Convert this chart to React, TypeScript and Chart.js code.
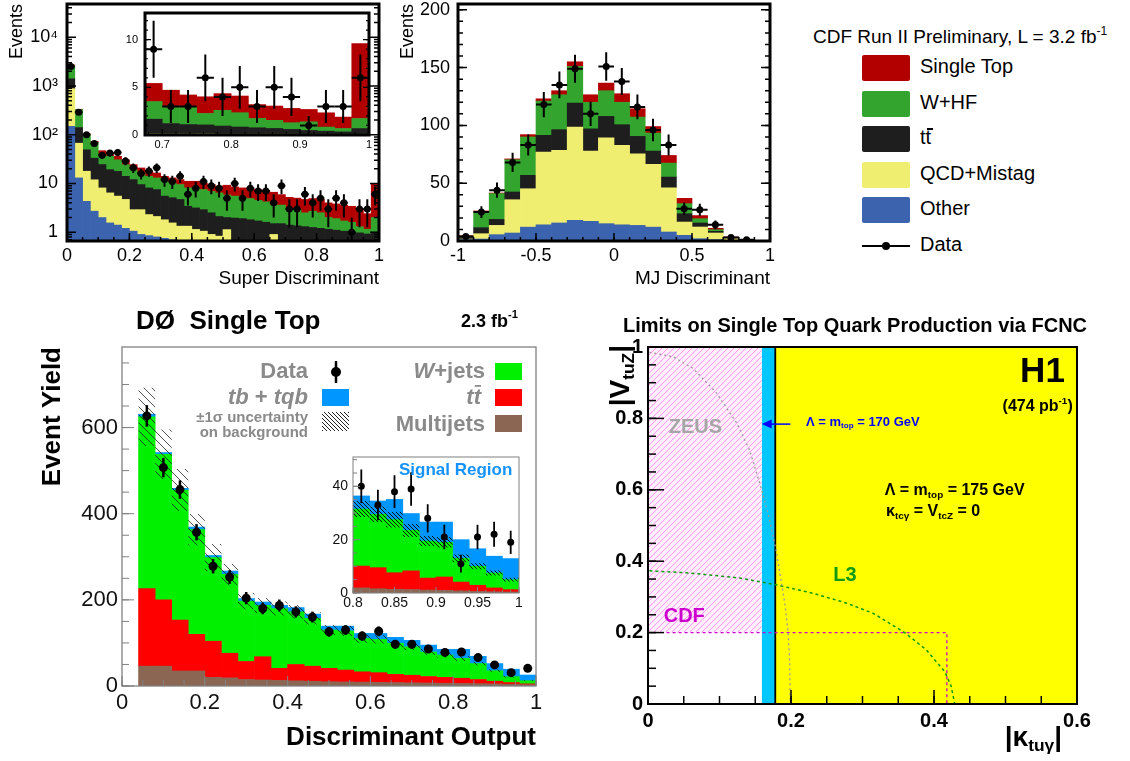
import React, { useEffect, useRef } from 'react';
import { Chart, registerables } from 'chart.js';

Chart.register(...registerables);

const FF = "'Liberation Sans', Arial, Helvetica, sans-serif";
Chart.defaults.font.family = FF;
Chart.defaults.color = '#000';

// ================= CDF : Super Discriminant (40 bins, width 0.025) =================
const sdBinWidth = 0.025;
const sdOther = [148, 13, 4.3, 2.7, 2.0, 1.55, 1.4, 1.2, 1.05, 0.9, 0.85, 0.8, 0.75, 0.7, 0.65, 0.6, 0.55, 0.5, 0.45, 0.4, 0.35, 0.3, 0.3, 0.3, 0.3, 0.3, 0.3, 0.25, 0.25, 0.25, 0.25, 0.25, 0.25, 0.2, 0.2, 0.2, 0.2, 0.2, 0.2, 0.2];
const sdQcd = [732, 54, 13.5, 9.2, 6.1, 4.85, 4.1, 3.5, 1.85, 2.0, 1.45, 1.3, 1.05, 0.85, 0.68, 0.73, 0.59, 0.55, 0.45, 0.43, 0.78, 0.3, 0.28, 0.26, 0.24, 0.22, 0.6, 0.25, 0.23, 0.21, 0.19, 0.17, 0.15, 0.18, 0.16, 0.14, 0.12, 0.1, 0.1, 0.1];
const sdTtbar = [520, 73, 31.2, 21.1, 16.4, 12.8, 12.2, 9.3, 9.1, 6.6, 5.8, 5.4, 3.7, 3.55, 3.37, 2.07, 2.01, 1.85, 1.6, 1.27, 0.87, 1.35, 1.32, 1.24, 1.16, 1.08, 0.6, 1.0, 0.92, 0.89, 0.86, 0.83, 0.8, 0.77, 0.74, 0.71, 0.68, 0.67, 0.62, 0.7];
const sdWhf = [1250, 185, 51, 37, 14.5, 16.8, 12.9, 10.3, 7.2, 6.9, 5.9, 5.5, 5.5, 5.1, 4.8, 4.7, 4.95, 4.6, 4.4, 4.3, 3.8, 3.55, 3.3, 3.1, 2.8, 2.6, 2.1, 2.1, 1.7, 1.65, 1.2, 1.45, 1.3, 0.85, 0.8, 0.65, 0.6, 0.33, 0.23, 1.0];
const sdStop = [50, 5, 4, 3, 8, 6, 5.4, 6.3, 5.1, 4.4, 3.7, 3.4, 3.0, 2.8, 2.5, 3.0, 3.0, 2.7, 2.6, 2.4, 3.4, 3.0, 2.9, 2.9, 3.0, 3.0, 3.0, 2.3, 2.1, 2.0, 2.2, 2.2, 2.2, 2.0, 1.9, 1.9, 1.8, 1.8, 1.25, 8.0];
const sdData = [2500, 290, 100, 66, 38, 42, 43, 29, 21, 16, 18, 21, 12, 11, 14, 6, 8, 11, 9, 8, 5, 10, 5, 8, 7, 7, 4, 9, 3, 3, 6, 4, 5, 3, 5, 4, 1, 3, 3, 6];
const sdLogTicks = [1, 10, 100, 1000, 10000];
const sdLogLabels = ['1', '10', '10²', '10³', '10⁴'];

// inset: 13 bins from 0.675 to 1.0
const inStart = 0.675;
const inOther = [0.04, 0.04, 0.04, 0.04, 0.04, 0.04, 0.04, 0.04, 0.04, 0.04, 0.04, 0.04, 0.04];
const inQcd = [0.07, 0.06, 0.06, 0.07, 0.05, 0.05, 0.05, 0.05, 0.05, 0.04, 0.04, 0.04, 0.04];
const inTtbar = [1.55, 1.1, 1.0, 0.95, 0.85, 0.75, 0.67, 0.6, 0.5, 0.4, 0.32, 0.25, 0.6];
const inWhf = [1.85, 1.75, 1.8, 1.2, 1.65, 1.5, 0.98, 0.85, 0.7, 0.9, 0.43, 0.35, 1.05];
const inStop = [1.9, 1.75, 1.3, 1.75, 1.75, 1.75, 1.45, 1.5, 1.5, 1.3, 1.5, 1.2, 7.85];
const inData = [9, 3, 3, 6, 4, 5, 3, 5, 4, 1, 3, 3, 6];

// ================= CDF : MJ Discriminant (20 bins, width 0.1 from -1) =================
const mjStart = -1;
const mjBinWidth = 0.1;
const mjOther = [1.2, 1.7, 5.5, 6.9, 12, 14, 15.6, 17.9, 17, 15, 14, 13.5, 12, 7.8, 4.9, 2, 1.2, 0.6, 0.3, 0.2];
const mjQcd = [0.5, 4.6, 8, 28.8, 33.2, 63, 62.8, 80.7, 60.8, 74.3, 68.7, 62, 54.3, 38.2, 11.5, 10.1, 5.7, 2, 0.6, 0.2];
const mjTtbar = [1.2, 5.2, 5.2, 6.7, 11.6, 14.4, 17.9, 20.7, 19.2, 18.5, 17.9, 15, 11.5, 9.3, 7.2, 3.5, 1.5, 0.3, 0.2, 0.1];
const mjWhf = [0.6, 13.5, 22.3, 27.9, 33.2, 29.6, 30.2, 31.7, 23, 22.2, 19.4, 16.7, 15.6, 12.1, 8.7, 3.7, 1.4, 0.3, 0.2, 0.05];
const mjStop = [1.1, 1, 0.5, 0.7, 2, 2, 3.5, 4, 6.5, 6.6, 7.4, 7.2, 5.6, 6.6, 4.6, 2.7, 1.2, 0.3, 0.1, 0.05];
const mjData = [4, 25, 44, 68, 83, 118, 135, 149, 110, 151, 138, 116, 96, 83, 28, 27, 14, 3, 1, null];

const cdfNames = { stop: 'Single Top', whf: 'W+HF', ttbar: 'tt̄', qcd: 'QCD+Mistag', other: 'Other' };
const cdfColors = { stop: '#b20000', whf: '#33a52e', ttbar: '#1e1e1e', qcd: '#f0ee70', other: '#3c63ae' };

// ================= DØ : Discriminant Output (24 bins of 0.04 from 0.04) =================
const d0Start = 0.04;
const d0BinWidth = 0.04;
const d0Multijet = [46, 46, 35, 35, 20, 19, 15, 14, 13, 12, 11, 10, 9.5, 9, 8.5, 8, 7.5, 7, 6.5, 6, 5.5, 5, 4, 3];
const d0Ttbar = [180, 154, 118, 85, 84, 57, 42, 54, 28, 38, 35, 31, 27.5, 24, 22.5, 19, 17.5, 15, 13.5, 12, 9.5, 6, 4, 2];
const d0Wjets = [399, 338, 302, 243, 194, 183, 140, 119, 139, 122, 111, 89, 91, 77, 77, 72, 66, 57, 52, 46, 37, 24.5, 13.6, 7.3];
const d0Signal = [6, 4, 4, 6, 5, 8, 6, 8, 7, 10, 10, 9, 11, 12, 14, 14, 15, 16, 13, 21, 17, 16.5, 17.4, 13.2];
const d0BkgErr = [68, 58, 49, 37, 32, 25, 19, 18, 17, 16, 15, 12, 12, 10, 10, 9, 8, 7, 6.5, 6, 5, 3.5, 2.5, 1.5];
const d0Data = [627, 507, 456, 357, 278, 253, 204, 180, 187, 172, 160, 126, 130, 116, 127, 97, 97, 86, 78, 79, 66, 49, 31, 41];

// DØ inset "Signal Region" (10 bins of 0.02 from 0.8)
const diStart = 0.8;
const diBinWidth = 0.02;
const diMultijet = [1.9, 1.6, 1.4, 1.3, 1.1, 1.0, 0.8, 0.6, 0.5, 0.4];
const diTtbar = [8.2, 7.9, 6.2, 7.0, 4.5, 5.0, 3.3, 2.3, 1.4, 0.85];
const diWjets = [21.4, 20, 19.9, 15.2, 13.9, 13, 8.9, 7.1, 5.6, 3.75];
const diSignal = [4.9, 5, 7.6, 6.3, 7.1, 7.6, 7, 6.6, 6.3, 7.9];
const diBkgErr = [3, 3, 3, 2.5, 2, 2, 1.5, 1.2, 1, 0.8];
const diData = [40, 33, 38, 39, 28, 21, 11, 21, 22, 19];

const d0Colors = { signal: '#0096ff', wjets: '#00f000', ttbar: '#ff0000', multijet: '#8b6652' };

// ================= H1 : FCNC limits =================
const h1KappaMax = 0.6;
const h1KappaLimit = 0.178;
const lam170KappaLimit = 0.159;
const cdfVLimit = 0.2;
const zeusK = [0.002, 0.035, 0.063, 0.096, 0.124, 0.142, 0.159, 0.17, 0.179, 0.186, 0.192, 0.196, 0.198, 0.199];
const zeusV = [0.985, 0.973, 0.94, 0.871, 0.787, 0.712, 0.6, 0.516, 0.432, 0.348, 0.273, 0.199, 0.124, 0];
const l3K = [0.002, 0.058, 0.128, 0.179, 0.231, 0.277, 0.315, 0.359, 0.389, 0.415, 0.424, 0.429];
const l3V = [0.373, 0.367, 0.353, 0.334, 0.31, 0.283, 0.254, 0.2, 0.152, 0.091, 0.05, 0];
const cdfK = [0.026, 0.418, 0.418];
const cdfV = [0.2, 0.2, 0];
const arrowK = [0.199, 0.159];
const arrowV = 0.784;

// ---------------------------------------------------------------------------
const centersOf = (start: number, w: number, n: number) => Array.from({ length: n }, (_, i) => start + (i + 0.5) * w);
const sdCenters = centersOf(0, sdBinWidth, sdData.length);
const inCenters = centersOf(inStart, sdBinWidth, inData.length);
const mjCenters = centersOf(mjStart, mjBinWidth, mjData.length);
const d0Centers = centersOf(d0Start, d0BinWidth, d0Data.length);
const diCenters = centersOf(diStart, diBinWidth, diData.length);

type Seg = { t: string; s?: 'sub' | 'sup'; it?: boolean; ov?: boolean; w?: string };
type Note = { x: number; y: number; segs: Seg[]; size: number; color?: string; weight?: string; align?: 'left' | 'right' | 'center'; rot?: number; data?: boolean };

const fnt = (size: number, weight = 'normal', it = false) => `${it ? 'italic ' : ''}${weight} ${size}px ${FF}`;

function drawRich(ctx: any, n: Note, x: number, y: number) {
  const base = n.size;
  const weight = n.weight ?? 'bold';
  ctx.save();
  ctx.translate(x, y);
  if (n.rot) ctx.rotate(n.rot);
  ctx.fillStyle = n.color ?? '#000';
  ctx.strokeStyle = n.color ?? '#000';
  ctx.textBaseline = 'middle';
  ctx.textAlign = 'left';
  const sizeOf = (s: Seg) => (s.s ? base * 0.62 : base);
  const widths = n.segs.map((s) => {
    ctx.font = fnt(sizeOf(s), s.w ?? weight, s.it);
    return ctx.measureText(s.t).width;
  });
  const total = widths.reduce((a: number, b: number) => a + b, 0);
  let cx = n.align === 'right' ? -total : n.align === 'center' ? -total / 2 : 0;
  n.segs.forEach((s, i) => {
    const sz = sizeOf(s);
    ctx.font = fnt(sz, s.w ?? weight, s.it);
    const dy = s.s === 'sub' ? base * 0.3 : s.s === 'sup' ? -base * 0.38 : 0;
    ctx.fillText(s.t, cx, dy);
    if (s.ov) {
      ctx.lineWidth = Math.max(1.3, sz * 0.08);
      const yb = dy - sz * 0.55;
      ctx.beginPath();
      ctx.moveTo(cx + widths[i] * 0.15, yb);
      ctx.lineTo(cx + widths[i] * 1.0, yb);
      ctx.stroke();
    }
    cx += widths[i];
  });
  ctx.restore();
}

function notesPlugin(id: string, notes: Note[]) {
  return {
    id,
    afterDraw(chart: any) {
      notes.forEach((n) => {
        const x = n.data ? chart.scales.x.getPixelForValue(n.x) : n.x;
        const y = n.data ? chart.scales.y.getPixelForValue(n.y) : n.y;
        drawRich(chart.ctx, n, x, y);
      });
    },
  };
}

type TickCfg = { major: number; minorLen: number; minor: number; sides: string[] };
function frameTicksPlugin(id: string, cfg: { color: string; frameW: number; tickW: number; x: TickCfg; y: TickCfg }) {
  return {
    id,
    afterDatasetsDraw(chart: any) {
      const { ctx, chartArea: a } = chart;
      ctx.save();
      ctx.strokeStyle = cfg.color;
      const draw = (scale: any, c: TickCfg) => {
        const majors = scale.ticks.map((t: any) => t.value);
        const minors: number[] = [];
        if (scale.type === 'logarithmic') {
          for (let d = Math.floor(Math.log10(scale.min)); d <= Math.ceil(Math.log10(scale.max)); d++) {
            for (let k = 2; k <= 9; k++) {
              const v = k * Math.pow(10, d);
              if (v > scale.min && v < scale.max) minors.push(v);
            }
          }
        } else if (c.minor > 1 && majors.length > 1) {
          const step = (majors[1] - majors[0]) / c.minor;
          let v = majors[0];
          while (v - step >= scale.min - 1e-9) v -= step;
          for (; v <= scale.max + 1e-9; v += step) minors.push(v);
        }
        const mark = (v: number, len: number) => {
          const p = scale.getPixelForValue(v);
          ctx.beginPath();
          c.sides.forEach((side) => {
            if (side === 'bottom') { ctx.moveTo(p, a.bottom); ctx.lineTo(p, a.bottom - len); }
            if (side === 'top') { ctx.moveTo(p, a.top); ctx.lineTo(p, a.top + len); }
            if (side === 'left') { ctx.moveTo(a.left, p); ctx.lineTo(a.left + len, p); }
            if (side === 'right') { ctx.moveTo(a.right, p); ctx.lineTo(a.right - len, p); }
          });
          ctx.stroke();
        };
        ctx.lineWidth = cfg.tickW;
        minors.forEach((v) => mark(v, c.minorLen));
        majors.forEach((v: number) => mark(v, c.major));
      };
      draw(chart.scales.x, cfg.x);
      draw(chart.scales.y, cfg.y);
      ctx.lineWidth = cfg.frameW;
      ctx.strokeRect(a.left, a.top, a.right - a.left, a.bottom - a.top);
      ctx.restore();
    },
  };
}

function errorBarPlugin(id: string, xs: number[], ys: (number | null)[], halfW: number, width: number) {
  return {
    id,
    afterDatasetsDraw(chart: any) {
      const { ctx, chartArea: a } = chart;
      const sx = chart.scales.x;
      const sy = chart.scales.y;
      ctx.save();
      ctx.beginPath();
      ctx.rect(a.left, a.top, a.right - a.left, a.bottom - a.top);
      ctx.clip();
      ctx.strokeStyle = '#000';
      ctx.lineWidth = width;
      ys.forEach((v, i) => {
        if (v == null) return;
        const e = Math.sqrt(v);
        const px = sx.getPixelForValue(xs[i]);
        const py = sy.getPixelForValue(v);
        const lo = sy.getPixelForValue(Math.max(v - e, sy.min));
        const hi = sy.getPixelForValue(v + e);
        ctx.beginPath();
        ctx.moveTo(px, lo);
        ctx.lineTo(px, hi);
        if (halfW) {
          ctx.moveTo(sx.getPixelForValue(xs[i] - halfW), py);
          ctx.lineTo(sx.getPixelForValue(xs[i] + halfW), py);
        }
        ctx.stroke();
      });
      ctx.restore();
    },
  };
}

// "\\\\" hatch (down-right) inside a rectangle
function hatchLines(ctx: any, x0: number, x1: number, yt: number, yb: number, spacing: number) {
  ctx.save();
  ctx.beginPath();
  ctx.rect(x0, yt, x1 - x0, yb - yt);
  ctx.clip();
  ctx.beginPath();
  const c0 = Math.floor((x0 - yb) / spacing) * spacing;
  for (let c = c0; c <= x1 - yt; c += spacing) {
    ctx.moveTo(c + yt, yt);
    ctx.lineTo(c + yb, yb);
  }
  ctx.stroke();
  ctx.restore();
}
// "////" hatch (up-right) inside a rectangle
function hatchLinesUp(ctx: any, x0: number, x1: number, yt: number, yb: number, spacing: number) {
  ctx.save();
  ctx.beginPath();
  ctx.rect(x0, yt, x1 - x0, yb - yt);
  ctx.clip();
  ctx.beginPath();
  const c0 = Math.floor((x0 + yt) / spacing) * spacing;
  for (let c = c0; c <= x1 + yb + spacing; c += spacing) {
    ctx.moveTo(c - yt, yt);
    ctx.lineTo(c - yb, yb);
  }
  ctx.stroke();
  ctx.restore();
}

function hatchPlugin(id: string, centers: number[], halfW: number, bkg: number[], err: number[], spacing: number, color: string, lw: number) {
  return {
    id,
    beforeDatasetDraw(chart: any, args: any) {
      if (args.index !== 0) return;
      const { ctx, chartArea: a } = chart;
      const sx = chart.scales.x;
      const sy = chart.scales.y;
      ctx.save();
      ctx.beginPath();
      ctx.rect(a.left, a.top, a.right - a.left, a.bottom - a.top);
      ctx.clip();
      ctx.strokeStyle = color;
      ctx.lineWidth = lw;
      bkg.forEach((b, i) => {
        const x0 = sx.getPixelForValue(centers[i] - halfW);
        const x1 = sx.getPixelForValue(centers[i] + halfW);
        const yt = sy.getPixelForValue(b + err[i]);
        const yb = sy.getPixelForValue(Math.max(b - err[i], 0));
        hatchLines(ctx, x0, x1, yt, yb, spacing);
      });
      ctx.restore();
    },
  };
}

const whiteAreaPlugin = {
  id: 'whiteArea',
  beforeDatasetsDraw(chart: any) {
    const { ctx, chartArea: a } = chart;
    ctx.save();
    ctx.fillStyle = '#fff';
    ctx.fillRect(a.left, a.top, a.right - a.left, a.bottom - a.top);
    ctx.restore();
  },
};

type Layer = { label: string; values: number[]; color: string };
function stackSets(centers: number[], layers: Layer[]) {
  return layers.map((l, i) => ({
    type: 'bar',
    label: l.label,
    order: i + 1,
    data: l.values.map((v, j) => ({ x: centers[j], y: v })),
    backgroundColor: l.color,
    borderWidth: 0,
    barPercentage: 1,
    categoryPercentage: 1,
  }));
}
function pointSet(centers: number[], values: (number | null)[], r: number) {
  const pts: any[] = [];
  values.forEach((v, j) => {
    if (v != null) pts.push({ x: centers[j], y: v });
  });
  return { type: 'scatter', label: 'Data', order: 0, data: pts, pointRadius: r, pointBackgroundColor: '#000', pointBorderColor: '#000', pointBorderWidth: 0 };
}

type AxisOpt = {
  min: number; max: number; step?: number; box: number; font: number; bold?: boolean; pad: number; color?: string;
  title?: string; titleSize?: number; titleBold?: boolean; titlePadTop?: number; titlePadBottom?: number; log?: boolean; stacked?: boolean;
};
const cleanNum = (v: number) => String(Math.round(v * 1e6) / 1e6);
function axis(o: AxisOpt) {
  const ax: any = {
    type: o.log ? 'logarithmic' : 'linear',
    min: o.min,
    max: o.max,
    offset: false,
    stacked: o.stacked ?? true,
    grid: { display: false, drawTicks: false },
    border: { display: false },
    ticks: {
      stepSize: o.step,
      font: { family: FF, size: o.font, weight: o.bold ? 'bold' : 'normal' },
      color: o.color ?? '#000',
      padding: o.pad,
      maxRotation: 0,
      minRotation: 0,
      autoSkip: false,
      includeBounds: false,
      callback: (v: number) => cleanNum(v),
    },
    title: o.title
      ? {
          display: true,
          text: o.title,
          align: 'end',
          color: '#000',
          font: { family: FF, size: o.titleSize ?? o.font, weight: o.titleBold ? 'bold' : 'normal' },
          padding: { top: o.titlePadTop ?? 0, bottom: o.titlePadBottom ?? 0 },
        }
      : { display: false },
    afterFit: (s: any) => {
      if (s.isHorizontal()) s.height = o.box;
      else s.width = o.box;
      s.paddingTop = 0;
      s.paddingBottom = 0;
      s.paddingLeft = 0;
      s.paddingRight = 0;
    },
  };
  if (!o.log && o.step) {
    const step = o.step;
    ax.afterBuildTicks = (s: any) => {
      const out: any[] = [];
      for (let k = Math.ceil(o.min / step - 1e-9); k * step <= o.max + 1e-9; k++) out.push({ value: Math.round(k * step * 1e9) / 1e9 });
      s.ticks = out;
    };
  }
  return ax;
}

function baseOptions(padTop: number, padRight: number, scales: any) {
  return {
    responsive: false,
    maintainAspectRatio: false,
    animation: false,
    events: [],
    devicePixelRatio: 1,
    layout: { padding: { top: padTop, right: padRight, left: 0, bottom: 0 } },
    plugins: { legend: { display: false }, tooltip: { enabled: false }, title: { display: false } },
    scales,
  };
}

const cdfLayers = (other: number[], qcd: number[], tt: number[], whf: number[], stop: number[]): Layer[] => [
  { label: cdfNames.other, values: other, color: cdfColors.other },
  { label: cdfNames.qcd, values: qcd, color: cdfColors.qcd },
  { label: cdfNames.ttbar, values: tt, color: cdfColors.ttbar },
  { label: cdfNames.whf, values: whf, color: cdfColors.whf },
  { label: cdfNames.stop, values: stop, color: cdfColors.stop },
];

function buildSuperDisc() {
  const y: any = axis({ min: 0.66, max: 48000, box: 67, font: 18, pad: 9, title: 'Events', titleSize: 18, titlePadTop: 6, log: true });
  y.afterBuildTicks = (s: any) => { s.ticks = sdLogTicks.map((v) => ({ value: v })); };
  y.ticks.callback = (v: number) => sdLogLabels[sdLogTicks.indexOf(v)] ?? '';
  return {
    type: 'bar',
    data: { datasets: [pointSet(sdCenters, sdData, 3.5), ...stackSets(sdCenters, cdfLayers(sdOther, sdQcd, sdTtbar, sdWhf, sdStop))] },
    options: baseOptions(4, 11, {
      x: axis({ min: 0, max: 1, step: 0.2, box: 49, font: 18, pad: 4, title: 'Super Discriminant', titleSize: 19 }),
      y,
    }),
    plugins: [
      errorBarPlugin('sdErr', sdCenters, sdData, sdBinWidth / 2, 2),
      frameTicksPlugin('sdFrame', { color: '#000', frameW: 3, tickW: 1.5, x: { major: 8, minorLen: 4, minor: 4, sides: ['bottom'] }, y: { major: 9, minorLen: 5, minor: 0, sides: ['left', 'right'] } }),
    ],
  };
}

function buildSuperInset() {
  return {
    type: 'bar',
    data: { datasets: [pointSet(inCenters, inData, 3.5), ...stackSets(inCenters, cdfLayers(inOther, inQcd, inTtbar, inWhf, inStop))] },
    options: baseOptions(13, 16, {
      x: axis({ min: inStart, max: 1, step: 0.1, box: 25, font: 11, pad: 3 }),
      y: axis({ min: 0, max: 12.8, step: 5, box: 45, font: 11, pad: 7 }),
    }),
    plugins: [
      whiteAreaPlugin,
      errorBarPlugin('inErr', inCenters, inData, sdBinWidth / 2, 2),
      frameTicksPlugin('inFrame', { color: '#000', frameW: 3, tickW: 1.2, x: { major: 6, minorLen: 3, minor: 5, sides: ['bottom'] }, y: { major: 6, minorLen: 3, minor: 5, sides: ['left', 'right'] } }),
    ],
  };
}

function buildMJ() {
  return {
    type: 'bar',
    data: { datasets: [pointSet(mjCenters, mjData, 3.5), ...stackSets(mjCenters, cdfLayers(mjOther, mjQcd, mjTtbar, mjWhf, mjStop))] },
    options: baseOptions(4, 20, {
      x: axis({ min: -1, max: 1, step: 0.5, box: 49, font: 18, pad: 4, title: 'MJ Discriminant', titleSize: 19 }),
      y: axis({ min: 0, max: 205, step: 50, box: 68, font: 18, pad: 8, title: 'Events', titleSize: 18, titlePadTop: 7 }),
    }),
    plugins: [
      errorBarPlugin('mjErr', mjCenters, mjData, mjBinWidth / 2, 2),
      frameTicksPlugin('mjFrame', { color: '#000', frameW: 3, tickW: 1.5, x: { major: 8, minorLen: 4, minor: 5, sides: ['bottom'] }, y: { major: 9, minorLen: 5, minor: 5, sides: ['left', 'right'] } }),
    ],
  };
}

const d0Layers = (mj: number[], tt: number[], wj: number[], sig: number[]): Layer[] => [
  { label: 'Multijets', values: mj, color: d0Colors.multijet },
  { label: 'tt̄', values: tt, color: d0Colors.ttbar },
  { label: 'W+jets', values: wj, color: d0Colors.wjets },
  { label: 'tb+tqb', values: sig, color: d0Colors.signal },
];
const sumOf = (...arrs: number[][]) => arrs[0].map((_, i) => arrs.reduce((s, a) => s + a[i], 0));

const GRAY = '#8a8a8a';

function d0LegendPlugin() {
  return {
    id: 'd0Legend',
    afterDraw(chart: any) {
      const ctx = chart.ctx;
      ctx.save();
      const boxes = [
        { x: 322, y: 89, color: d0Colors.signal },
        { x: 495, y: 63, color: d0Colors.wjets },
        { x: 495, y: 89, color: d0Colors.ttbar },
        { x: 495, y: 115, color: d0Colors.multijet },
      ];
      boxes.forEach((b) => {
        ctx.fillStyle = b.color;
        ctx.fillRect(b.x, b.y, 27, 17);
      });
      ctx.strokeStyle = '#222';
      ctx.lineWidth = 1;
      hatchLines(ctx, 322, 349, 112, 131, 4);
      ctx.fillStyle = '#000';
      ctx.strokeStyle = '#000';
      ctx.lineWidth = 2.5;
      ctx.beginPath();
      ctx.moveTo(336, 61);
      ctx.lineTo(336, 83);
      ctx.stroke();
      ctx.beginPath();
      ctx.arc(336, 72, 5, 0, Math.PI * 2);
      ctx.fill();
      ctx.restore();
    },
  };
}

const d0Notes: Note[] = [
  { x: 136, y: 22, segs: [{ t: 'DØ  Single Top' }], size: 26 },
  { x: 461, y: 22, segs: [{ t: '2.3 fb' }, { t: '-1', s: 'sup' }], size: 18 },
  { x: 308, y: 72, segs: [{ t: 'Data' }], size: 22, color: GRAY, align: 'right' },
  { x: 308, y: 98, segs: [{ t: 'tb', it: true }, { t: ' + ' }, { t: 'tqb', it: true }], size: 22, color: GRAY, align: 'right' },
  { x: 308, y: 118, segs: [{ t: '±1σ uncertainty' }], size: 15, color: GRAY, align: 'right' },
  { x: 308, y: 133, segs: [{ t: 'on background' }], size: 15, color: GRAY, align: 'right' },
  { x: 485, y: 72, segs: [{ t: 'W', it: true }, { t: '+jets' }], size: 22, color: GRAY, align: 'right' },
  { x: 481, y: 98, segs: [{ t: 't', it: true }, { t: 't', it: true, ov: true }], size: 22, color: GRAY, align: 'right' },
  { x: 485, y: 125, segs: [{ t: 'Multijets' }], size: 22, color: GRAY, align: 'right' },
];

function buildD0() {
  const bkg = sumOf(d0Multijet, d0Ttbar, d0Wjets);
  return {
    type: 'bar',
    data: { datasets: [pointSet(d0Centers, d0Data, 4.5), ...stackSets(d0Centers, d0Layers(d0Multijet, d0Ttbar, d0Wjets, d0Signal))] },
    options: baseOptions(47, 24, {
      x: axis({ min: 0, max: 1, step: 0.2, box: 75, font: 22, pad: 4, color: '#111', title: 'Discriminant Output', titleSize: 26, titleBold: true, titlePadBottom: 8 }),
      y: axis({ min: 0, max: 787, step: 200, box: 122, font: 22, pad: 4, color: '#111', title: 'Event Yield', titleSize: 26, titleBold: true, titlePadTop: 37 }),
    }),
    plugins: [
      hatchPlugin('d0Hatch', d0Centers, d0BinWidth / 2, bkg, d0BkgErr, 8, 'rgba(25,25,25,0.75)', 1),
      errorBarPlugin('d0Err', d0Centers, d0Data, 0, 2.5),
      frameTicksPlugin('d0Frame', { color: '#808080', frameW: 1.3, tickW: 1, x: { major: 10, minorLen: 6, minor: 4, sides: ['bottom'] }, y: { major: 12, minorLen: 7, minor: 4, sides: ['left'] } }),
      d0LegendPlugin(),
      notesPlugin('d0Notes', d0Notes),
    ],
  };
}

function buildD0Inset() {
  const bkg = sumOf(diMultijet, diTtbar, diWjets);
  return {
    type: 'bar',
    data: { datasets: [pointSet(diCenters, diData, 3.5), ...stackSets(diCenters, d0Layers(diMultijet, diTtbar, diWjets, diSignal))] },
    options: baseOptions(17, 11, {
      x: axis({ min: diStart, max: 1, step: 0.05, box: 27, font: 14, pad: 2, color: '#111' }),
      y: axis({ min: 0, max: 51, step: 20, box: 53, font: 14, pad: 5, color: '#111' }),
    }),
    plugins: [
      whiteAreaPlugin,
      hatchPlugin('diHatch', diCenters, diBinWidth / 2, bkg, diBkgErr, 4, '#111', 1),
      errorBarPlugin('diErr', diCenters, diData, 0, 1.8),
      frameTicksPlugin('diFrame', { color: '#808080', frameW: 1, tickW: 1, x: { major: 6, minorLen: 3, minor: 5, sides: ['bottom'] }, y: { major: 7, minorLen: 4, minor: 4, sides: ['left'] } }),
      notesPlugin('diNotes', [{ x: 99, y: 30, segs: [{ t: 'Signal Region' }], size: 17, color: '#1493ff' }]),
    ],
  };
}

const pts = (xs: number[], ys: number[]) => xs.map((x, i) => ({ x, y: ys[i] }));

const h1Notes: Note[] = [
  { x: 265, y: 26, segs: [{ t: 'Limits on Single Top Quark Production via FCNC' }], size: 20, align: 'center' },
  { x: 31, y: 45, segs: [{ t: '|V' }, { t: 'tuZ', s: 'sub' }, { t: '|' }], size: 28, align: 'right', rot: -Math.PI / 2 },
  { x: 472, y: 438, segs: [{ t: '|κ' }, { t: 'tuγ', s: 'sub' }, { t: '|' }], size: 28, align: 'right' },
  { x: 0.029, y: 0.775, segs: [{ t: 'ZEUS' }], size: 20, color: '#a6a6a6', data: true },
  { x: 0.022, y: 0.245, segs: [{ t: 'CDF' }], size: 20, color: '#cc00cc', data: true },
  { x: 0.259, y: 0.359, segs: [{ t: 'L3' }], size: 20, color: '#139a13', data: true },
  { x: 0.221, y: 0.79, segs: [{ t: 'Λ = m' }, { t: 'top', s: 'sub' }, { t: ' = 170 GeV' }], size: 13, color: '#0000ff', data: true },
  { x: 0.331, y: 0.598, segs: [{ t: 'Λ = m' }, { t: 'top', s: 'sub' }, { t: ' = 175 GeV' }], size: 16, data: true },
  { x: 0.333, y: 0.538, segs: [{ t: 'κ' }, { t: 'tcγ', s: 'sub' }, { t: ' = V' }, { t: 'tcZ', s: 'sub' }, { t: ' = 0' }], size: 16, data: true },
  { x: 0.583, y: 0.928, segs: [{ t: 'H1' }], size: 35, align: 'right', data: true },
  { x: 0.594, y: 0.832, segs: [{ t: '(474 pb' }, { t: '-1', s: 'sup' }, { t: ')' }], size: 16, align: 'right', data: true },
];

function h1ArrowPlugin() {
  return {
    id: 'h1Arrow',
    afterDatasetsDraw(chart: any) {
      const { ctx } = chart;
      const sx = chart.scales.x;
      const sy = chart.scales.y;
      const y = sy.getPixelForValue(arrowV);
      const x0 = sx.getPixelForValue(arrowK[0]);
      const x1 = sx.getPixelForValue(arrowK[1]);
      ctx.save();
      ctx.strokeStyle = '#0000ff';
      ctx.fillStyle = '#0000ff';
      ctx.lineWidth = 1.5;
      ctx.beginPath();
      ctx.moveTo(x0, y);
      ctx.lineTo(x1 + 6, y);
      ctx.stroke();
      ctx.beginPath();
      ctx.moveTo(x1, y);
      ctx.lineTo(x1 + 10, y - 4.5);
      ctx.lineTo(x1 + 10, y + 4.5);
      ctx.closePath();
      ctx.fill();
      ctx.restore();
    },
  };
}

// pink "////" hatching for the excluded region, bounded by that dataset's data through the scales
function h1HatchPlugin(dsIndex: number) {
  return {
    id: 'h1Hatch',
    afterDatasetDraw(chart: any, args: any) {
      if (args.index !== dsIndex) return;
      const { ctx } = chart;
      const sx = chart.scales.x;
      const sy = chart.scales.y;
      const d = chart.data.datasets[dsIndex].data;
      const x0 = sx.getPixelForValue(d[0].x);
      const x1 = sx.getPixelForValue(d[d.length - 1].x);
      const yt = sy.getPixelForValue(d[0].y);
      const yb = sy.getPixelForValue(cdfVLimit);
      ctx.save();
      ctx.strokeStyle = '#ff96f2';
      ctx.lineWidth = 1;
      hatchLinesUp(ctx, x0, x1, yt, yb, 6);
      ctx.restore();
    },
  };
}

function buildH1() {
  const line = { type: 'line', pointRadius: 0, tension: 0, fill: false };
  return {
    type: 'line',
    data: {
      datasets: [
        { ...line, label: 'ZEUS', order: 0, data: pts(zeusK, zeusV), borderColor: '#9a9a9a', borderWidth: 1.3, borderDash: [2, 3] },
        { ...line, label: 'L3', order: 1, data: pts(l3K, l3V), borderColor: '#0f9a0f', borderWidth: 1.5, borderDash: [3, 3] },
        { ...line, label: 'CDF', order: 2, data: pts(cdfK, cdfV), borderColor: '#cc00cc', borderWidth: 1.3, borderDash: [3, 3] },
        { ...line, label: 'H1 limit', order: 3, data: pts([h1KappaLimit, h1KappaLimit], [0, 1]), borderColor: '#000', borderWidth: 1.8 },
        { ...line, label: 'H1 excluded', order: 4, data: pts([h1KappaLimit, h1KappaMax], [1, 1]), borderColor: 'transparent', borderWidth: 0, backgroundColor: '#ffff00', fill: 'origin' },
        { ...line, label: 'Λ = 170 GeV', order: 5, data: pts([lam170KappaLimit, h1KappaLimit], [1, 1]), borderColor: 'transparent', borderWidth: 0, backgroundColor: '#00c8ff', fill: 'origin' },
        { ...line, label: 'CDF excluded', order: 6, data: pts([0, lam170KappaLimit], [1, 1]), borderColor: 'transparent', borderWidth: 0, backgroundColor: 'rgba(255,238,253,1)', fill: { value: cdfVLimit } },
      ],
    },
    options: baseOptions(47, 53, {
      x: axis({ min: 0, max: h1KappaMax, step: 0.2, box: 57, font: 20, bold: true, pad: 5, stacked: false }),
      y: axis({ min: 0, max: 1, step: 0.2, box: 58, font: 20, bold: true, pad: 5, stacked: false }),
    }),
    plugins: [
      h1HatchPlugin(6),
      h1ArrowPlugin(),
      frameTicksPlugin('h1Frame', { color: '#000', frameW: 2, tickW: 1.5, x: { major: 14, minorLen: 8, minor: 4, sides: ['bottom'] }, y: { major: 16, minorLen: 8, minor: 4, sides: ['left'] } }),
      notesPlugin('h1Notes', h1Notes),
    ],
  };
}

function ChartCanvas({ box, build }: { box: number[]; build: () => any }) {
  const ref = useRef<HTMLCanvasElement | null>(null);
  useEffect(() => {
    if (!ref.current) return;
    const chart = new Chart(ref.current, build());
    return () => chart.destroy();
  }, []);
  const [l, t, w, h] = box;
  return <canvas ref={ref} width={w} height={h} style={{ position: 'absolute', left: l, top: t, width: w, height: h }} />;
}

function CdfLegend() {
  const rows = [
    { key: 'stop', label: <>{cdfNames.stop}</> },
    { key: 'whf', label: <>{cdfNames.whf}</> },
    { key: 'ttbar', label: <>t<span style={{ position: 'relative' }}>t<span style={{ position: 'absolute', left: 1, top: 2, width: 6, borderTop: '2px solid #000' }} /></span></> },
    { key: 'qcd', label: <>{cdfNames.qcd}</> },
    { key: 'other', label: <>{cdfNames.other}</> },
  ];
  const rowY = [68, 104, 139, 175, 210, 246];
  return (
    <>
      <div style={{ position: 'absolute', left: 813, top: 25, font: `19px ${FF}`, lineHeight: '24px', whiteSpace: 'nowrap', color: '#000' }}>
        CDF Run II Preliminary, L = 3.2 fb<span style={{ fontSize: 12, position: 'relative', top: -8 }}>-1</span>
      </div>
      {rows.map((r, i) => (
        <React.Fragment key={r.key}>
          <div style={{ position: 'absolute', left: 862, top: rowY[i] - 13, width: 48, height: 26, background: (cdfColors as any)[r.key], borderRadius: 2 }} />
          <div style={{ position: 'absolute', left: 920, top: rowY[i] - 13, lineHeight: '26px', font: `20px ${FF}`, whiteSpace: 'nowrap', color: '#000' }}>{r.label}</div>
        </React.Fragment>
      ))}
      <div style={{ position: 'absolute', left: 862, top: rowY[5] - 1, width: 48, height: 2, background: '#000' }} />
      <div style={{ position: 'absolute', left: 882, top: rowY[5] - 4, width: 8, height: 8, borderRadius: 4, background: '#000' }} />
      <div style={{ position: 'absolute', left: 920, top: rowY[5] - 13, lineHeight: '26px', font: `20px ${FF}`, color: '#000' }}>Data</div>
    </>
  );
}

export default function App() {
  useEffect(() => {
    document.body.style.margin = '0';
    document.body.style.background = '#fff';
  }, []);
  return (
    <div style={{ position: 'relative', width: 1130, height: 761, overflow: 'hidden', background: '#fff', fontFamily: FF }}>
      <ChartCanvas box={[0, 0, 390, 290]} build={buildSuperDisc} />
      <ChartCanvas box={[100, 0, 285, 160]} build={buildSuperInset} />
      <ChartCanvas box={[390, 0, 400, 290]} build={buildMJ} />
      <CdfLegend />
      <ChartCanvas box={[0, 300, 560, 461]} build={buildD0} />
      <ChartCanvas box={[300, 440, 230, 180]} build={buildD0Inset} />
      <ChartCanvas box={[590, 300, 540, 461]} build={buildH1} />
    </div>
  );
}
